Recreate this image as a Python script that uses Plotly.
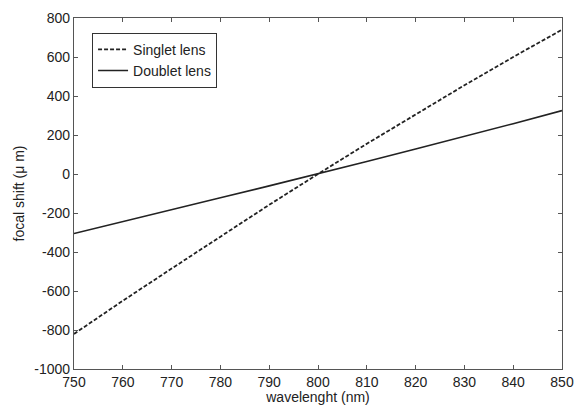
import plotly.graph_objects as go

wavelength = [750, 760, 770, 780, 790, 800, 810, 820, 830, 840, 850]
singlet = [-820, -650, -485, -320, -158, 0, 155, 305, 455, 600, 740]
doublet = [-305, -245, -183, -122, -61, 0, 64, 128, 192, 258, 325]
xticks = [750, 760, 770, 780, 790, 800, 810, 820, 830, 840, 850]
yticks = [-1000, -800, -600, -400, -200, 0, 200, 400, 600, 800]

fig = go.Figure()
fig.add_trace(go.Scatter(x=wavelength, y=singlet, mode="lines", name="Singlet lens",
                         line=dict(color="#222", width=1.8, dash="4px,2px")))
fig.add_trace(go.Scatter(x=wavelength, y=doublet, mode="lines", name="Doublet lens",
                         line=dict(color="#222", width=1.6)))

axis_common = dict(showgrid=False, zeroline=False, showline=True, linecolor="#555",
                   linewidth=1.2, mirror="ticks", ticks="inside", ticklen=4,
                   tickcolor="#555", tickfont=dict(size=14, color="#222"), automargin=False)
fig.update_xaxes(range=[750, 850], tickvals=xticks, ticktext=[str(v) for v in xticks],
                 title=dict(text="wavelenght (nm)", font=dict(size=14, color="#222"), standoff=0),
                 **axis_common)
fig.update_yaxes(range=[-1000, 800], tickvals=yticks, ticktext=[str(v) for v in yticks],
                 title=dict(text="focal shift (μ m)", font=dict(size=14, color="#222"), standoff=6),
                 **axis_common)
fig.update_layout(
    width=575, height=405,
    margin=dict(l=74, r=13, t=18, b=36, autoexpand=False),
    paper_bgcolor="white", plot_bgcolor="white",
    font=dict(family="Liberation Sans, Arial, sans-serif", size=14, color="#222"),
    legend=dict(x=0.037, y=0.958, xanchor="left", yanchor="top",
                bgcolor="white", bordercolor="#333", borderwidth=1,
                font=dict(size=14), tracegroupgap=0, itemwidth=30),
    showlegend=True,
)
fig.write_html("out.html", config={"displayModeBar": False},
               post_script="document.body.style.margin='0px';document.body.style.padding='0px';")
